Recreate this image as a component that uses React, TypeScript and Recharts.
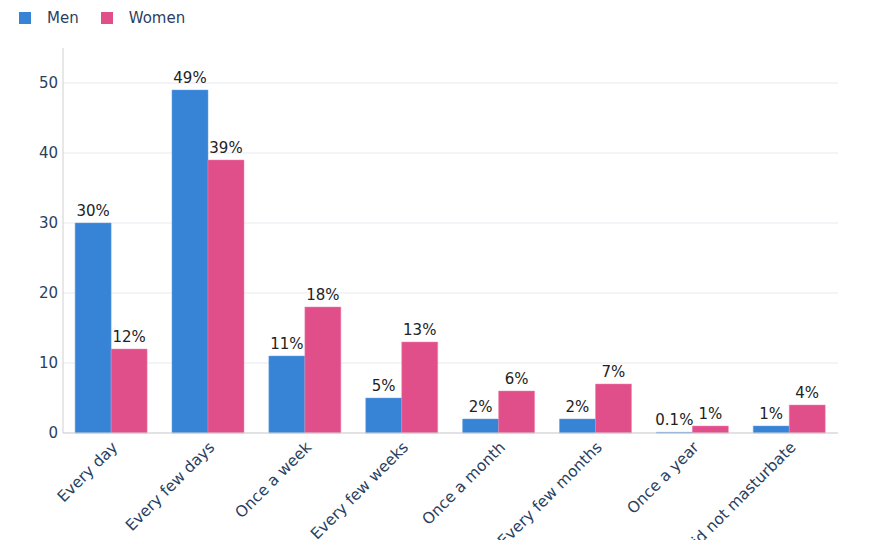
import { BarChart, Bar, XAxis, YAxis, CartesianGrid, LabelList } from "recharts";

const categories = [
  "Every day",
  "Every few days",
  "Once a week",
  "Every few weeks",
  "Once a month",
  "Every few months",
  "Once a year",
  "Did not masturbate",
];
const men = [30, 49, 11, 5, 2, 2, 0.1, 1];
const women = [12, 39, 18, 13, 6, 7, 1, 4];
const yTicks = [0, 10, 20, 30, 40, 50];

const BLUE = "#3784d7";
const PINK = "#e14f8a";
const AXIS_TEXT = "#2a3f5f";
const FONT = "DejaVu Sans, Verdana, sans-serif";

const rows = categories.map((name, i) => ({ name, men: men[i], women: women[i] }));

function SlantTick(props: any) {
  const { x, y, payload } = props;
  return (
    <g transform={`translate(${x + 4},${y + 4})`}>
      <text
        transform="rotate(-45)"
        textAnchor="end"
        dominantBaseline="middle"
        fontSize={15.5}
        fill={AXIS_TEXT}
        fontFamily={FONT}
      >
        {payload.value}
      </text>
    </g>
  );
}

function TopLegend() {
  const items = [
    { label: "Men", color: BLUE },
    { label: "Women", color: PINK },
  ];
  return (
    <div
      style={{
        position: "absolute",
        top: 9,
        left: 19,
        display: "flex",
        fontFamily: FONT,
        fontSize: 15,
        color: AXIS_TEXT,
        zIndex: 1,
      }}
    >
      {items.map((it) => (
        <div key={it.label} style={{ display: "flex", alignItems: "center", marginRight: 22 }}>
          <span style={{ width: 12, height: 12, background: it.color, display: "inline-block", marginRight: 16 }} />
          <span>{it.label}</span>
        </div>
      ))}
    </div>
  );
}

export default function App() {
  return (
    <div style={{ position: "absolute", left: 0, top: 0, width: 880, height: 540, background: "#fff" }}>
      <TopLegend />
      <BarChart
        width={880}
        height={540}
        data={rows}
        margin={{ top: 48, right: 42, left: 0, bottom: 0 }}
        barCategoryGap="12.5%"
        barGap={0}
      >
        <CartesianGrid vertical={false} stroke="#e6e9ee" horizontalValues={yTicks} />
        <XAxis
          dataKey="name"
          height={107}
          interval={0}
          tickLine={false}
          axisLine={{ stroke: "#d0d0d0" }}
          tick={<SlantTick />}
        />
        <YAxis
          width={63}
          domain={[0, 55]}
          ticks={yTicks}
          tickLine={false}
          tickSize={0}
          tickMargin={5}
          axisLine={{ stroke: "#d0d0d0" }}
          tick={{ fontSize: 15, fill: AXIS_TEXT, fontFamily: FONT }}
        />
        <Bar dataKey="men" name="Men" fill={BLUE} stroke="#6aa3e3" strokeWidth={0.5} isAnimationActive={false}>
          <LabelList
            dataKey="men"
            position="top"
            offset={7}
            formatter={(v: any) => `${v}%`}
            style={{ fontSize: 15, fill: "#222", fontFamily: FONT }}
          />
        </Bar>
        <Bar dataKey="women" name="Women" fill={PINK} stroke="#ec86ae" strokeWidth={0.5} isAnimationActive={false}>
          <LabelList
            dataKey="women"
            position="top"
            offset={7}
            formatter={(v: any) => `${v}%`}
            style={{ fontSize: 15, fill: "#222", fontFamily: FONT }}
          />
        </Bar>
      </BarChart>
    </div>
  );
}
